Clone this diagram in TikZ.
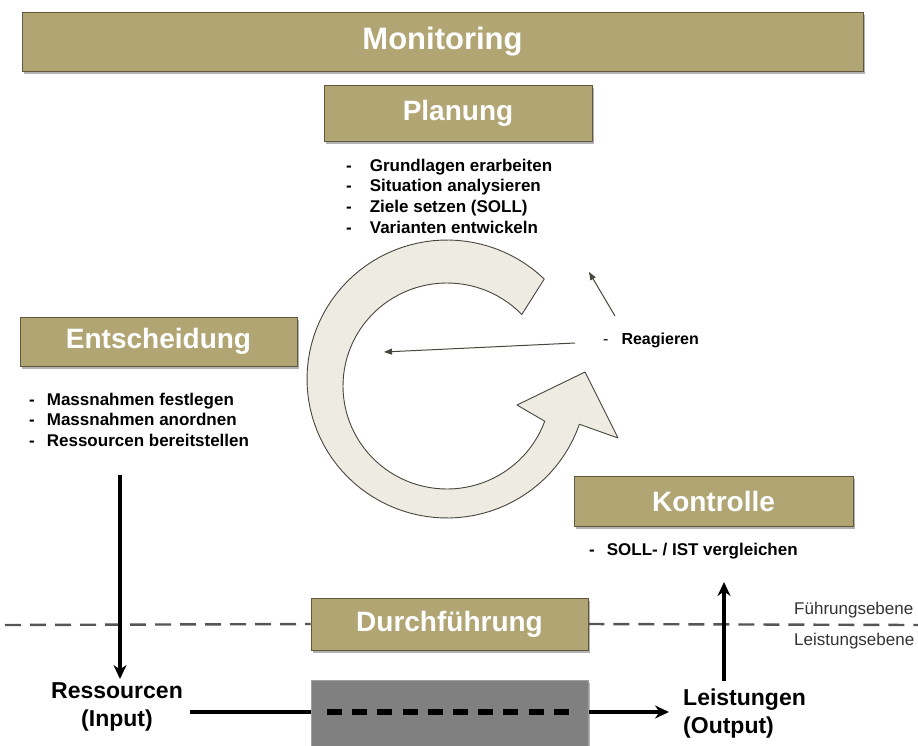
\documentclass[tikz,border=0pt]{standalone}
\usepackage{fontspec}
\setmainfont{Liberation Sans}
\usetikzlibrary{shadows,arrows.meta}
\definecolor{tanbox}{RGB}{177,165,116}
\definecolor{boxline}{RGB}{95,88,62}
\definecolor{bandfill}{RGB}{238,236,226}
\definecolor{bandline}{RGB}{70,70,60}
\definecolor{graybox}{RGB}{128,128,128}
\definecolor{sepgray}{RGB}{85,85,85}
\begin{document}
\begin{tikzpicture}[x=1pt,y=-1pt,
  box/.style={draw=boxline, fill=tanbox, line width=0.9pt, inner sep=0pt,
    drop shadow={shadow xshift=2pt,shadow yshift=-2.5pt,opacity=0.3,fill=black}},
  title/.style={text=white, font=\bfseries\fontsize{28}{30}\selectfont},
  listtext/.style={inner sep=0pt, anchor=base west, font=\bfseries\fontsize{17}{20.7}\selectfont},
  bigarrow/.style={line width=3.3pt, -{Stealth[length=14pt,width=13pt]}},
  thinarrow/.style={line width=1pt, draw=bandline, -{Triangle[length=8pt,width=6pt]}},
  sepline/.style={draw=sepgray, line width=2.4pt, dash pattern=on 16pt off 9pt},
  levellabel/.style={inner sep=0pt, anchor=west, text=black!80, font=\fontsize{17}{18}\selectfont},
  iolabel/.style={inner sep=3pt, font=\bfseries\fontsize{23}{28}\selectfont}
]
\useasboundingbox (0,0) rectangle (918,745);

% boxes
\node[box, title, minimum width=841pt, minimum height=59pt, font=\bfseries\fontsize{31}{33}\selectfont] (mon) at (442.5,41.5) {Monitoring};
\node[box, title, minimum width=268pt, minimum height=56pt] (plan) at (458,113) {Planung};
\node[box, title, minimum width=277pt, minimum height=49pt] (ent) at (158.5,341.5) {Entscheidung};
\node[box, title, minimum width=279pt, minimum height=50pt] (kon) at (713.5,501) {Kontrolle};

% lists
\node[listtext] (planlist) at (346,171) {\begin{tabular}[t]{@{}l@{\hspace{18pt}}l@{}}
- & Grundlagen erarbeiten\\
- & Situation analysieren\\
- & Ziele setzen (SOLL)\\
- & Varianten entwickeln
\end{tabular}};
\node[listtext] (entlist) at (29,405) {\begin{tabular}[t]{@{}l@{\hspace{12pt}}l@{}}
- & Massnahmen festlegen\\
- & Massnahmen anordnen\\
- & Ressourcen bereitstellen
\end{tabular}};
\node[listtext] (konlist) at (589,555) {\begin{tabular}[t]{@{}l@{\hspace{12pt}}l@{}}
- & SOLL- / IST vergleichen
\end{tabular}};

% circular arrow
\filldraw[fill=bandfill, draw=bandline, line width=0.9pt, line join=round]
  plot[domain=46:341, samples=90] ({447+140*cos(\x)},{379-139*sin(\x)})
  -- (618,438) -- (585,372) -- (517,405)
  -- plot[domain=340:44, samples=90] ({447+104*cos(\x)},{386-103*sin(\x)})
  -- cycle;

% Reagieren
\node[listtext, font=\bfseries\fontsize{16}{20}\selectfont] (reag) at (603,344) {\begin{tabular}[t]{@{}l@{\hspace{13pt}}l@{}}
{\mdseries -} & Reagieren
\end{tabular}};
\coordinate (r1s) at (575,343);
\coordinate (r1e) at (384,352);
\coordinate (r2s) at (615,316);
\coordinate (r2e) at (589,272);
\draw[thinarrow] (r1s) -- (r1e);
\draw[thinarrow] (r2s) -- (r2e);

% separator and Durchfuehrung
\node[box, title, minimum width=277pt, minimum height=52pt] (durch) at (449.5,624) {Durchführung};
\coordinate (sepL) at (5,625);
\coordinate (sepR) at (918,625);
\draw[sepline] (sepL) -- (durch.west);
\draw[sepline] (durch.east) -- (sepR);
\node[levellabel] (fuehr) at (794,610) {Führungsebene};
\node[levellabel] (leistE) at (794,641) {Leistungsebene};

% input / output
\node[iolabel, align=center] (ress) at (117,707) {Ressourcen\\(Input)};
\node[iolabel, align=left, anchor=west] (leist) at (680,714) {Leistungen\\(Output)};
\coordinate (dtop) at (120,475);
\coordinate (dbot) at (120,679);
\draw[bigarrow] (dtop) -- (dbot);
\coordinate (ubot) at (724,681);
\coordinate (utop) at (724,582);
\draw[bigarrow] (ubot) -- (utop);

\coordinate (hs) at (190,712);
\coordinate (he) at (669,712);
\draw[bigarrow] (hs) -- (he);
\node[draw=gray!75, fill=graybox, line width=1pt, minimum width=277pt, minimum height=72pt, inner sep=0pt,
  drop shadow={shadow xshift=2pt,shadow yshift=-2.5pt,opacity=0.3,fill=black}] (proc) at (449.5,716) {};
\coordinate (ds) at (327,712);
\coordinate (de) at (578,712);
\draw[line width=5.5pt, dash pattern=on 15pt off 10.2pt] (ds) -- (de);
\end{tikzpicture}
\end{document}
